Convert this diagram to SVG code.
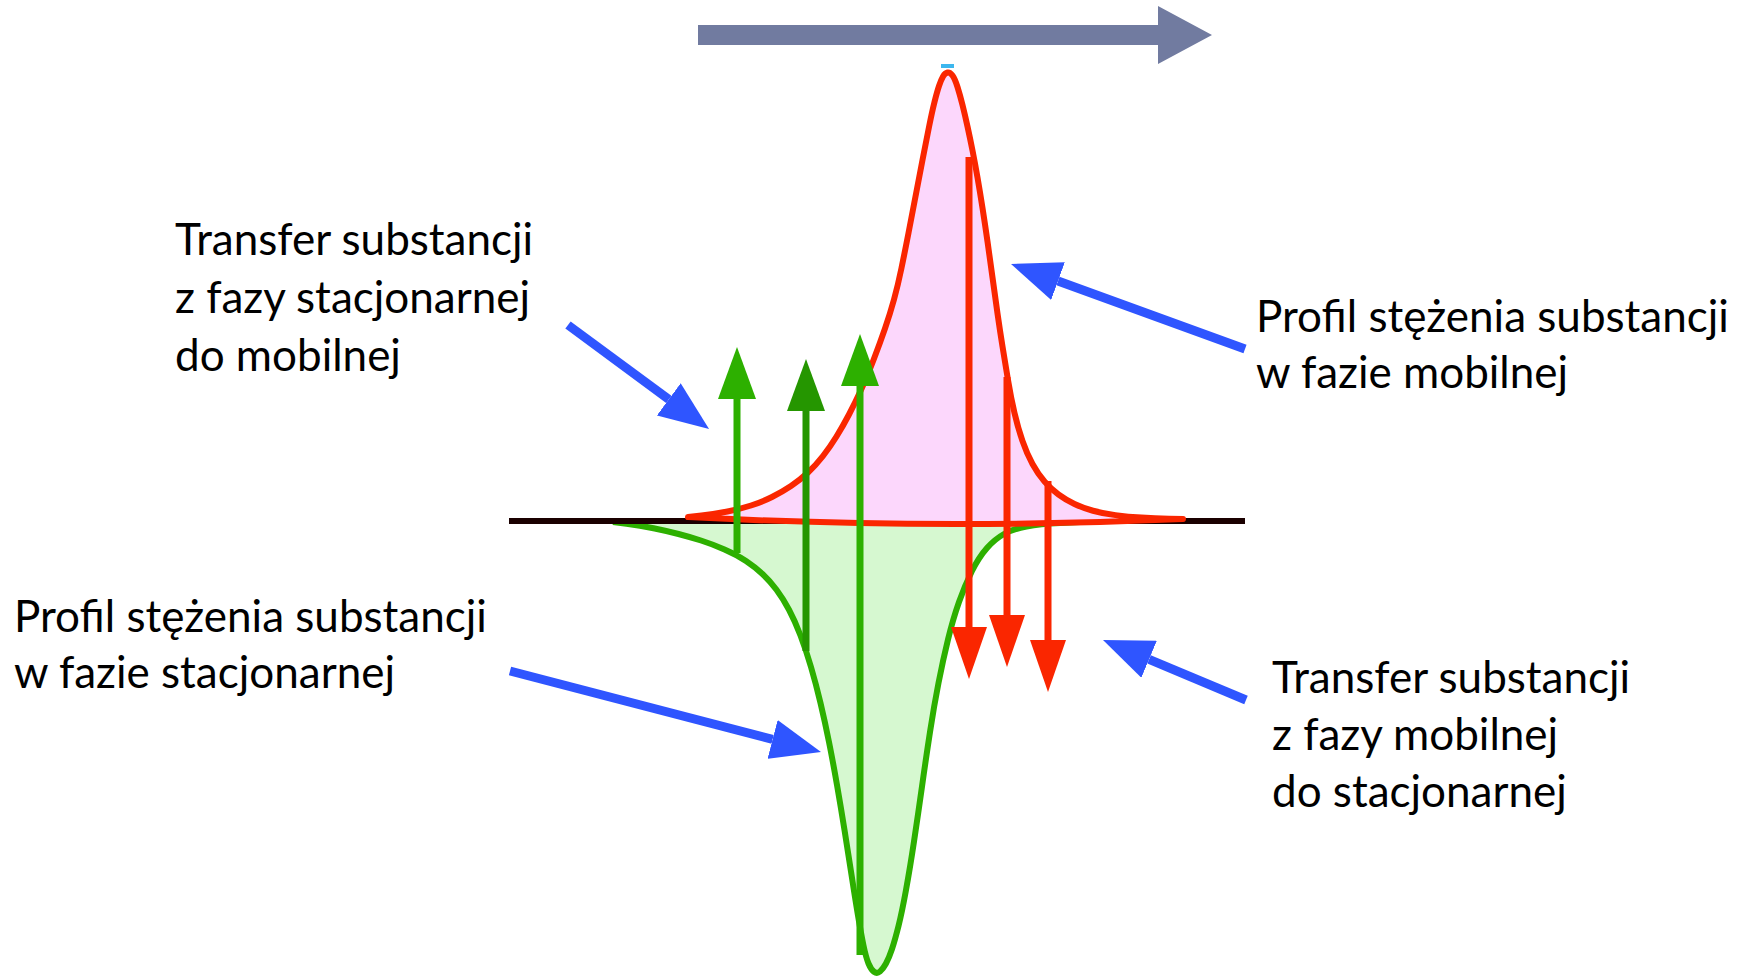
<svg xmlns="http://www.w3.org/2000/svg" width="1746" height="976" viewBox="0 0 1746 976">
<style>
  .lbl { font-family: Lato, "Liberation Sans", sans-serif; font-size: 44px; fill: #000; }
  .blue { stroke: #2F55FF; stroke-width: 9; fill: none; }
  .gr { stroke: #2DB000; stroke-width: 7; fill: none; }
  .gr2 { stroke: #259600; stroke-width: 7; fill: none; }
  .rd { stroke: #FA2600; stroke-width: 7; fill: none; }
</style>
<defs>
  <marker id="hb" markerUnits="userSpaceOnUse" markerWidth="50" markerHeight="40" viewBox="0 0 50 40" refX="0" refY="20" orient="auto"><path d="M0,0 L50,20 L0,40 Z" fill="#2F55FF"/></marker>
  <marker id="hg" markerUnits="userSpaceOnUse" markerWidth="52" markerHeight="38" viewBox="0 0 52 38" refX="0" refY="19" orient="auto"><path d="M0,0 L52,19 L0,38 Z" fill="#2DB000"/></marker>
  <marker id="hg2" markerUnits="userSpaceOnUse" markerWidth="52" markerHeight="38" viewBox="0 0 52 38" refX="0" refY="19" orient="auto"><path d="M0,0 L52,19 L0,38 Z" fill="#259600"/></marker>
  <marker id="hr" markerUnits="userSpaceOnUse" markerWidth="52" markerHeight="36" viewBox="0 0 52 36" refX="0" refY="18" orient="auto"><path d="M0,0 L52,18 L0,36 Z" fill="#FA2600"/></marker>
</defs>
<rect width="1746" height="976" fill="#fff"/>

<g id="flow-arrow">
  <path d="M698,25 L1158,25 L1158,6 L1212,35 L1158,64 L1158,45 L698,45 Z" fill="#717BA0"/>
  <rect x="941" y="64" width="13" height="4" fill="#3DB7EE"/>
</g>

<g id="stationary-profile">
  <path fill="#D6F8D0" stroke="none" d="M613,522 L626.5,523.75 Q640,525.5 653.5,528.25 Q667,531 678.5,534 Q690,537 701,540.5 Q712,544 724.5,549.5 Q737,555 746,561 Q755,567 762.5,574 Q770,581 776.5,589.75 Q783,598.5 789,609.75 Q795,621 800.5,635.5 Q806,650 811,667 Q816,684 820.5,703 Q825,722 829,742 Q833,762 837,785 Q841,808 844.5,830 Q848,852 851.5,874.75 Q855,897.5 858,915.5 Q861,933.5 863.5,945.5 Q866,957.5 868.5,963.5 Q871,969.5 874,971.75 Q877,974 880,971.5 Q883,969 886,963.5 Q889,958 892,949 Q895,940 898.5,926 Q902,912 906,890 Q910,868 914,841.5 Q918,815 922,786.5 Q926,758 930,732 Q934,706 938.5,683 Q943,660 948,639.5 Q953,619 959,602 Q965,585 972,571 Q979,557 987,548 Q995,539 1004,534 Q1013,529 1026.5,526.5 Q1040,524 1060,523 L1080,522 Z"/>
  <path fill="none" stroke="#2DB000" stroke-width="6" stroke-linejoin="round" d="M613,522 L626.5,523.75 Q640,525.5 653.5,528.25 Q667,531 678.5,534 Q690,537 701,540.5 Q712,544 724.5,549.5 Q737,555 746,561 Q755,567 762.5,574 Q770,581 776.5,589.75 Q783,598.5 789,609.75 Q795,621 800.5,635.5 Q806,650 811,667 Q816,684 820.5,703 Q825,722 829,742 Q833,762 837,785 Q841,808 844.5,830 Q848,852 851.5,874.75 Q855,897.5 858,915.5 Q861,933.5 863.5,945.5 Q866,957.5 868.5,963.5 Q871,969.5 874,971.75 Q877,974 880,971.5 Q883,969 886,963.5 Q889,958 892,949 Q895,940 898.5,926 Q902,912 906,890 Q910,868 914,841.5 Q918,815 922,786.5 Q926,758 930,732 Q934,706 938.5,683 Q943,660 948,639.5 Q953,619 959,602 Q965,585 972,571 Q979,557 987,548 Q995,539 1004,534 Q1013,529 1026.5,526.5 Q1040,524 1060,523 L1080,522"/>
</g>

<g id="baseline">
  <line x1="509" y1="521" x2="1245" y2="521" stroke="#1A0000" stroke-width="6"/>
</g>

<g id="mobile-profile">
  <path fill="#FCD7FC" stroke="#FA2600" stroke-width="6" stroke-linejoin="round" d="M688,517 L701.5,515.5 Q715,514 727.5,511.5 Q740,509 751,505.5 Q762,502 772,497 Q782,492 791,486 Q800,480 808,472.5 Q816,465 823,456 Q830,447 836.5,436.5 Q843,426 849,414.5 Q855,403 861,390 Q867,377 873.5,360 Q880,343 885,328.5 Q890,314 894,299.5 Q898,285 901.5,268 Q905,251 908.5,233 Q912,215 915.5,196.5 Q919,178 922.5,160 Q926,142 929,127 Q932,112 934.5,102 Q937,92 939,86 Q941,80 943,76.5 Q945,73 947.5,72.5 Q950,72 952.5,75.5 Q955,79 957.5,87 Q960,95 962.5,105 Q965,115 967.5,126.5 Q970,138 972.5,150.5 Q975,163 977.5,177.5 Q980,192 982.5,208 Q985,224 987.5,241.5 Q990,259 992.5,277.5 Q995,296 997.5,313.5 Q1000,331 1002.5,346.5 Q1005,362 1008,380 Q1011,398 1014.5,413 Q1018,428 1022.5,441 Q1027,454 1032.5,464 Q1038,474 1044.5,481.5 Q1051,489 1058.5,494.5 Q1066,500 1074.5,504 Q1083,508 1093,510.75 Q1103,513.5 1115.5,515.15 Q1128,516.8 1141.5,517.55 Q1155,518.3 1169,518.65 L1183,519 Q935,530 688,517 Z"/>
</g>

<g id="connectors">
  <line class="gr" x1="737" y1="553" x2="737" y2="399" marker-end="url(#hg)"/>
  <line class="gr2" x1="806" y1="651" x2="806" y2="411" marker-end="url(#hg2)"/>
  <line class="gr" x1="860" y1="955" x2="860" y2="386" marker-end="url(#hg)"/>
  <line class="rd" x1="969" y1="157" x2="969" y2="627" marker-end="url(#hr)"/>
  <line class="rd" x1="1007" y1="377" x2="1007" y2="615" marker-end="url(#hr)"/>
  <line class="rd" x1="1048" y1="481" x2="1048" y2="640" marker-end="url(#hr)"/>
  <line class="blue" x1="568" y1="325" x2="668.8" y2="399.3" marker-end="url(#hb)"/>
  <line class="blue" x1="1245" y1="349" x2="1058" y2="281.1" marker-end="url(#hb)"/>
  <line class="blue" x1="510" y1="671" x2="772.6" y2="739.4" marker-end="url(#hb)"/>
  <line class="blue" x1="1246" y1="700" x2="1149.1" y2="659.3" marker-end="url(#hb)"/>
</g>

<g id="label-transfer-stat-mob">
  <text class="lbl" x="175" y="255">Transfer substancji</text>
  <text class="lbl" x="175" y="313">z fazy stacjonarnej</text>
  <text class="lbl" x="175" y="371">do mobilnej</text>
</g>
<g id="label-profile-mobile">
  <text class="lbl" x="1256" y="332">Profil stężenia substancji</text>
  <text class="lbl" x="1256" y="388">w fazie mobilnej</text>
</g>
<g id="label-profile-stationary">
  <text class="lbl" x="14" y="632">Profil stężenia substancji</text>
  <text class="lbl" x="14" y="688">w fazie stacjonarnej</text>
</g>
<g id="label-transfer-mob-stat">
  <text class="lbl" x="1272" y="693">Transfer substancji</text>
  <text class="lbl" x="1272" y="750">z fazy mobilnej</text>
  <text class="lbl" x="1272" y="807">do stacjonarnej</text>
</g>
</svg>
